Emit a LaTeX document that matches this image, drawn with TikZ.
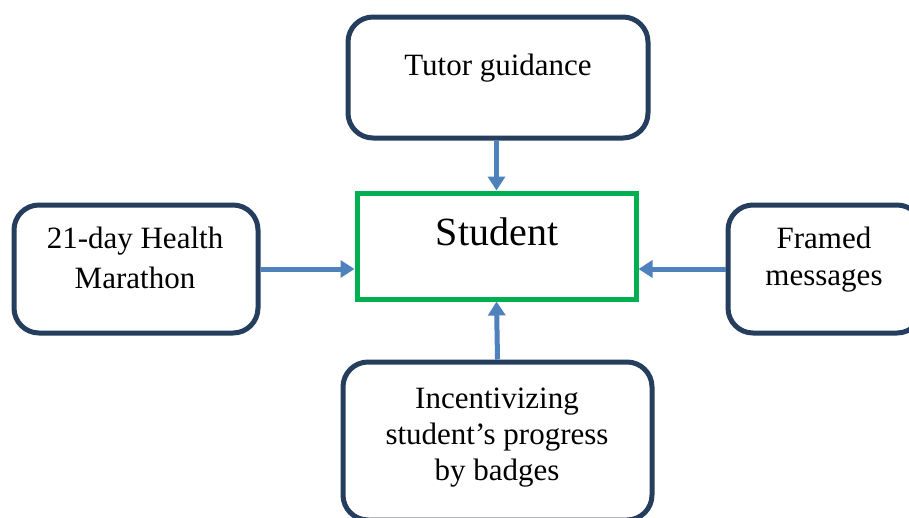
\documentclass[tikz,border=0pt]{standalone}
\usepackage{fontspec}
\setmainfont{Liberation Serif}
\usetikzlibrary{arrows.meta}
\definecolor{navy}{HTML}{253E5E}
\definecolor{studgreen}{HTML}{00B050}
\definecolor{arrowblue}{HTML}{4F81BD}
\begin{document}
\begin{tikzpicture}[x=1pt,y=-1pt,
  factor/.style={draw=navy,line width=5pt,rounded corners=25pt,fill=white,inner sep=0pt},
  centre/.style={draw=studgreen,line width=5pt,fill=white,inner sep=0pt},
  lbl/.style={anchor=base,inner sep=0pt,font=\fontsize{31}{38}\selectfont},
  flow/.style={draw=arrowblue,line width=5pt,-{Triangle[length=14pt,width=17pt]}}]
\useasboundingbox (0,0) rectangle (909,517);
\clip (0,0) rectangle (909,517);
\fill[white] (0,0) rectangle (909,517);

% boxes
\node[factor,minimum width=300pt,minimum height=121pt] (tutor) at (498,77.5) {};
\node[centre,minimum width=279pt,minimum height=106pt] (student) at (496.5,246) {};
\node[factor,minimum width=244pt,minimum height=128pt] (marathon) at (136,269) {};
\node[factor,minimum width=194pt,minimum height=128pt] (framed) at (825,269) {};
\node[factor,minimum width=309pt,minimum height=158pt] (badges) at (497.5,441) {};

% texts
\node[lbl] (ttutor) at (498,75) {Tutor guidance};
\node[lbl,font=\fontsize{40}{48}\selectfont] (tstudent) at (497,245) {Student};
\node[lbl] (tmar1) at (135,248) {21-day Health};
\node[lbl] (tmar2) at (135,288) {Marathon};
\node[lbl] (tfr1) at (824,248) {Framed};
\node[lbl] (tfr2) at (824,285) {messages};
\node[lbl] (tbad1) at (497,408) {Incentivizing};
\node[lbl] (tbad2) at (497,444) {student’s progress};
\node[lbl] (tbad3) at (497,480) {by badges};

% arrows into the student box
\draw[flow] (tutor.south -| student.north) -- (student.north);
\draw[flow] (marathon.east) -- (marathon.east -| student.west);
\draw[flow] (framed.west) -- (framed.west -| student.east);
\draw[flow] (badges.north) -- (student.south);
\end{tikzpicture}
\end{document}
